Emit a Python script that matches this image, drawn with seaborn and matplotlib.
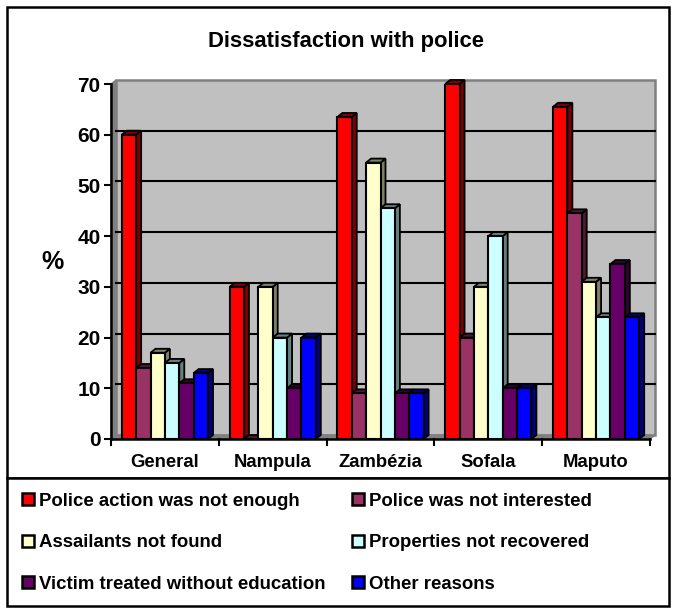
"""
Dissatisfaction with police - grouped bars with an Excel style 3D look
Output: out.png
"""
import numpy as np
import pandas as pd
import matplotlib
matplotlib.use('Agg')
import matplotlib.pyplot as plt
from matplotlib.patches import Polygon, Rectangle, Patch
from matplotlib.transforms import ScaledTranslation
import seaborn as sns

# ─── Data ────────────────────────────────────────────────────────────────────
REGIONS = ['General', 'Nampula', 'Zambézia', 'Sofala', 'Maputo']
REASONS = ['Police action was not enough', 'Police was not interested',
           'Assailants not found', 'Properties not recovered',
           'Victim treated without education', 'Other reasons']
NOT_ENOUGH = [60, 30, 63.5, 70, 65.5]
NOT_INTERESTED = [14, 0, 9, 20, 44.5]
NOT_FOUND = [17, 30, 54.5, 30, 31]
NOT_RECOVERED = [15, 20, 45.5, 40, 24]
NO_EDUCATION = [11, 10, 9, 10, 34.5]
OTHER = [13, 20, 9, 10, 24]
YTICKS = [0, 10, 20, 30, 40, 50, 60, 70]

COLORS = ['#ff0000', '#993366', '#ffffcc', '#ccffff', '#660066', '#0000ff']
SHADES = ['#800000', '#4d1a33', '#808066', '#668080', '#330033', '#000080']

W, H = 674, 608
DEPTH_X, DEPTH_Y = 5, 4  # size of the 3D offset, pixels
AX_W, AX_H = 539, 355

df = pd.DataFrame({
    'region': np.repeat(REGIONS, len(REASONS)),
    'reason': REASONS * len(REGIONS),
    'value': np.ravel(np.column_stack([NOT_ENOUGH, NOT_INTERESTED, NOT_FOUND,
                                       NOT_RECOVERED, NO_EDUCATION, OTHER])),
})

plt.rcParams['font.family'] = ['Liberation Sans', 'DejaVu Sans']
plt.rcParams['font.weight'] = 'bold'

fig = plt.figure(figsize=(W / 100, H / 100), dpi=100, facecolor='white')

# Outer frames (chart + legend box)
fig.add_artist(Rectangle((7 / W, 1 - 478 / H), 662 / W, 471 / H, transform=fig.transFigure,
                         fill=False, ec='black', lw=1.8))
fig.add_artist(Rectangle((7 / W, 1 - 606 / H), 662 / W, 128 / H, transform=fig.transFigure,
                         fc='white', ec='black', lw=1.8))

ax = fig.add_axes([111 / W, 1 - 439 / H, AX_W / W, AX_H / H])
ax.patch.set_visible(False)

sns.barplot(data=df, x='region', y='value', hue='reason', order=REGIONS, hue_order=REASONS,
            palette=COLORS, width=0.8, gap=0, saturation=1, legend=False, ax=ax,
            edgecolor='black', linewidth=1.5, zorder=5)
ax.set_xlim(-0.5, len(REGIONS) - 0.5)
ax.set_ylim(0, 70)

px = ScaledTranslation(DEPTH_X / 100, DEPTH_Y / 100, fig.dpi_scale_trans)
back = ax.transAxes + px

# Walls of the 3D box, in axes coordinates shifted by the depth
ax.add_patch(Rectangle((0, 0), 1, 1, transform=back, fc='#c0c0c0', ec='#808080', lw=1.8,
                       clip_on=False, zorder=0))
dx, dy = DEPTH_X / AX_W, DEPTH_Y / AX_H
ax.add_patch(Polygon([(0, 0), (dx, dy), (dx, 1 + dy), (0, 1)], transform=ax.transAxes,
                     fc='#808080', ec='#808080', clip_on=False, zorder=1))
ax.add_patch(Polygon([(0, 0), (1, 0), (1 + dx, dy), (dx, dy)], transform=ax.transAxes,
                     fc='#808080', ec='#808080', clip_on=False, zorder=1))

# Gridlines on the back wall (the top one is the wall edge itself)
for t in YTICKS[1:-1]:
    ax.plot([0, 1], [t, t], transform=ax.get_yaxis_transform() + px, color='black', lw=1.5,
            clip_on=False, zorder=2)

# Side and top faces for each bar, taken from the bar rectangles
inv = ax.transData.inverted()
ox, oy = inv.transform((DEPTH_X, DEPTH_Y)) - inv.transform((0, 0))
for container, shade in zip(ax.containers, SHADES):
    for i, bar in enumerate(container):
        x0, x1, top = bar.get_x(), bar.get_x() + bar.get_width(), bar.get_height()
        z = 4 + 0.01 * i
        ax.add_patch(Polygon([(x1, 0), (x1 + ox, oy), (x1 + ox, top + oy), (x1, top)],
                             fc=shade, ec='black', lw=1.3, clip_on=False, zorder=z))
        ax.add_patch(Polygon([(x0, top), (x0 + ox, top + oy), (x1 + ox, top + oy), (x1, top)],
                             fc=shade, ec='black', lw=1.3, clip_on=False, zorder=z))

# Axes
sns.despine(ax=ax, top=True, right=True)
for side in ['left', 'bottom']:
    ax.spines[side].set_linewidth(1.8)
    ax.spines[side].set_zorder(6)
ax.set_yticks(YTICKS)
ax.set_yticklabels([str(t) for t in YTICKS], fontsize=15, fontweight='bold')
ax.set_xticks(np.arange(len(REGIONS)))
ax.set_xticklabels(REGIONS, fontsize=13.3, fontweight='bold')
ax.tick_params(axis='y', length=5, width=1.5, pad=2.5)
ax.tick_params(axis='x', length=0, pad=11)
for edge in np.arange(len(REGIONS) + 1) - 0.5:
    ax.plot([edge, edge], [0, -70 * 6 / AX_H], color='black', lw=1.5, clip_on=False, zorder=6)
ax.set_xlabel('')
ax.set_ylabel('')

fig.text(346 / W, 1 - 41 / H, 'Dissatisfaction with police', ha='center', va='center',
         fontsize=15.8, fontweight='bold')
fig.text(52 / W, 1 - 262 / H, '%', ha='center', va='center', fontsize=18, fontweight='bold')

# Legend, filled row by row like the original
order = [0, 2, 4, 1, 3, 5]
handles = [Patch(fc=COLORS[i], ec='black', lw=1.8) for i in order]
fig.legend(handles, [REASONS[i] for i in order], ncol=2, loc='upper left',
           bbox_to_anchor=(22 / W, 1 - 493 / H), bbox_transform=fig.transFigure, frameon=False,
           prop={'family': 'Liberation Sans', 'weight': 'bold', 'size': 13.4},
           borderpad=0, borderaxespad=0, handlelength=0.62, handleheight=0.62,
           handletextpad=0.28, labelspacing=1.31, columnspacing=1.45)

plt.savefig('out.png', dpi=100)
